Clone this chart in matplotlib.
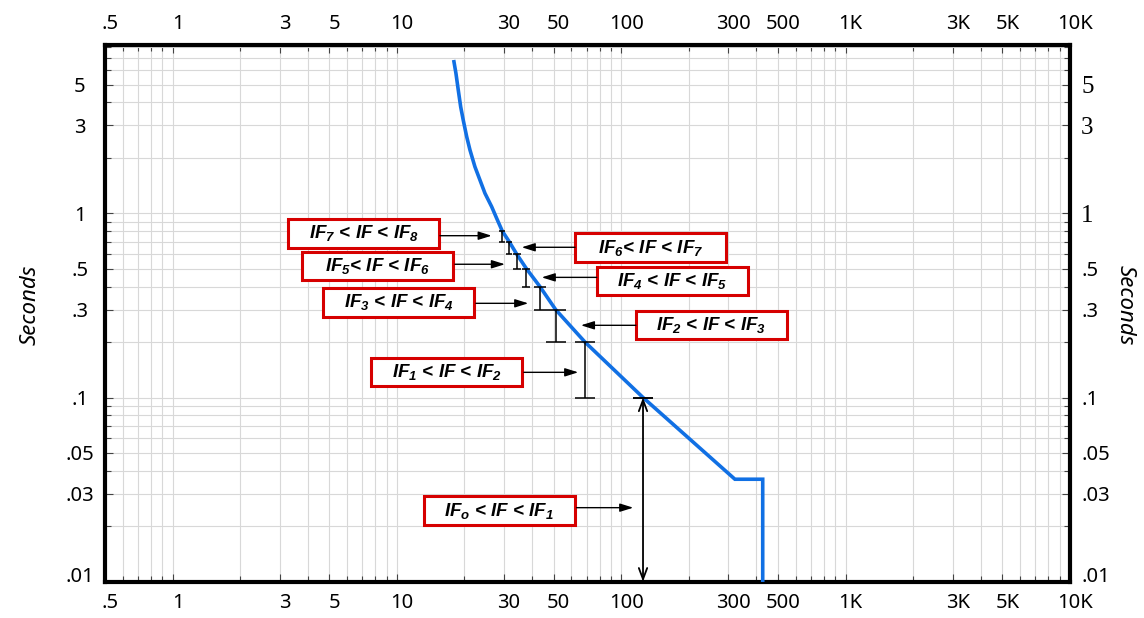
import numpy as np
import matplotlib.pyplot as plt
import matplotlib.transforms as mtransforms
from matplotlib.patches import Rectangle
from matplotlib.ticker import LogLocator, NullFormatter

plt.rcParams['font.family'] = ['Noto Sans', 'DejaVu Sans']
plt.rcParams['mathtext.default'] = 'regular'

# time-current curve (amps, seconds)
curve_x = [17.96, 18.33, 18.77, 19.24, 19.75, 20.46, 21.16, 22.27, 23.45, 24.69, 26.45, 27.84,
           29.5, 31.7, 34.2, 37.8, 43.4, 51.0, 68.9, 125, 321, 427, 427]
curve_y = [6.65, 5.75, 4.67, 3.79, 3.21, 2.61, 2.21, 1.79, 1.516, 1.284, 1.086, 0.939,
           0.80, 0.70, 0.60, 0.50, 0.40, 0.30, 0.20, 0.10, 0.036, 0.036, 0.01]

# step bars under the curve
bar_x = [29.5, 31.7, 34.2, 37.8, 43.4, 51.0, 68.9, 125]
bar_top = [0.8, 0.7, 0.6, 0.5, 0.4, 0.3, 0.2, 0.1]
bar_bottom = [0.7, 0.6, 0.5, 0.4, 0.3, 0.2, 0.1, 0.01]
bar_caps = [2.5, 2.5, 2.6, 3.2, 4.0, 7.0, 7.0, 7.5]

# labels
labels = ["IF$_7$ < IF < IF$_8$", "IF$_6$< IF < IF$_7$", "IF$_5$< IF < IF$_6$",
          "IF$_4$ < IF < IF$_5$", "IF$_3$ < IF < IF$_4$", "IF$_2$ < IF < IF$_3$",
          "IF$_1$ < IF < IF$_2$", "IF$_o$ < IF < IF$_1$"]
box_x = [7.12, 135.3, 8.23, 169, 10.18, 251.8, 16.66, 28.6]
box_y = [0.779, 0.652, 0.516, 0.430, 0.328, 0.248, 0.1372, 0.02435]
arrow_from_x = [15.56, 62.2, 18.14, 77.7, 22.5, 116.2, 36.8, 63.2]
arrow_to_x = [26.45, 36.0, 30.3, 44.2, 38.5, 66.1, 64.3, 113.1]
arrow_y = [0.756, 0.654, 0.529, 0.449, 0.3246, 0.2466, 0.137, 0.02523]

x_ticks = [0.5, 1, 3, 5, 10, 30, 50, 100, 300, 500, 1000, 3000, 5000, 10000]
x_labels = ['.5', '1', '3', '5', '10', '30', '50', '100', '300', '500', '1K', '3K', '5K', '10K']
y_ticks = [0.01, 0.03, 0.05, 0.1, 0.3, 0.5, 1, 3, 5]
y_labels = ['.01', '.03', '.05', '.1', '.3', '.5', '1', '3', '5']

fig = plt.figure(figsize=(11.44, 6.18), dpi=100)
ax = fig.add_axes([105 / 1144, 1 - 581.7 / 618, 965 / 1144, (581.7 - 45) / 618])
ax.set_xscale('log')
ax.set_yscale('log')
ax.set_xlim(0.5, 10000)
ax.set_ylim(0.01, 8.2)

ax.set_xticks(x_ticks, x_labels)
ax.set_yticks(y_ticks, y_labels)
ax.xaxis.set_minor_locator(LogLocator(base=10, subs=np.arange(2, 10), numticks=50))
ax.yaxis.set_minor_locator(LogLocator(base=10, subs=np.arange(2, 10), numticks=50))
ax.xaxis.set_minor_formatter(NullFormatter())
ax.yaxis.set_minor_formatter(NullFormatter())

ax.grid(which='both', color='#d8d8d8', lw=0.8)
ax.set_axisbelow(True)
ax.tick_params(which='both', direction='in', top=True, right=True, labeltop=True,
               labelright=True, color='#444444', width=0.8)
ax.tick_params(which='major', length=6, labelsize=14.5)
ax.tick_params(which='minor', length=4)
ax.tick_params(axis='x', pad=8)
ax.tick_params(axis='y', pad=8)

for s in ax.spines.values():
    s.set_linewidth(3)
    s.set_color('black')

# shift labels a little like the original
dx = mtransforms.ScaledTranslation(5 / 100, 0, fig.dpi_scale_trans)
for t in ax.xaxis.get_major_ticks():
    t.label1.set_transform(t.label1.get_transform() + dx)
    t.label2.set_transform(t.label2.get_transform() + dx)

left_shift = mtransforms.ScaledTranslation(-14 / 100, 0, fig.dpi_scale_trans)
up_shift = mtransforms.ScaledTranslation(0, 7 / 100, fig.dpi_scale_trans)
for i, t in enumerate(ax.yaxis.get_major_ticks()):
    t.label1.set_horizontalalignment('center')
    t.label1.set_transform(t.label1.get_transform() + left_shift)
    if y_labels[i] in ['1', '3', '5']:
        t.label2.set_fontfamily('Liberation Serif')
        t.label2.set_fontsize(18)
    if y_labels[i] == '.01':
        t.label1.set_transform(t.label1.get_transform() + up_shift)
        t.label2.set_transform(t.label2.get_transform() + up_shift)

# curve
ax.plot(curve_x, curve_y, color='#1170e4', lw=2.6, zorder=3, solid_joinstyle='miter')

# bars
for i in range(len(bar_x) - 1):
    ax.errorbar(bar_x[i], bar_top[i], yerr=[[bar_top[i] - bar_bottom[i]], [0]], fmt='none',
                ecolor='black', elinewidth=1.1, capsize=bar_caps[i], capthick=1.1, zorder=4)
ax.errorbar(bar_x[-1], bar_top[-1], yerr=[[0], [0]], fmt='none', ecolor='black',
            elinewidth=1.1, capsize=bar_caps[-1], capthick=1.1, zorder=4)
ax.annotate('', xy=(bar_x[-1], bar_top[-1]), xytext=(bar_x[-1], bar_bottom[-1]),
            arrowprops=dict(arrowstyle='<->,head_length=0.8,head_width=0.3', color='black',
                            lw=1.3, shrinkA=0, shrinkB=0, mutation_scale=10), zorder=4)

# label boxes and arrows
box_w, box_h = 1.51, 0.285
for i in range(len(labels)):
    tr = fig.dpi_scale_trans + mtransforms.ScaledTranslation(box_x[i], box_y[i], ax.transData)
    ax.add_patch(Rectangle((-box_w / 2, -box_h / 2), box_w, box_h, transform=tr,
                           fc='white', ec='#d60000', lw=2.2, zorder=5))
    ax.text(box_x[i], box_y[i], labels[i], ha='center', va='center', fontsize=13.5,
            family=['Liberation Sans', 'DejaVu Sans'], fontweight='bold', fontstyle='italic',
            zorder=6)
    ax.annotate('', xy=(arrow_to_x[i], arrow_y[i]), xytext=(arrow_from_x[i], arrow_y[i]),
                arrowprops=dict(arrowstyle='-|>,head_length=0.8,head_width=0.25', color='black',
                                lw=1, shrinkA=0, shrinkB=0, mutation_scale=10), zorder=5)

fig.text(30 / 1144, 1 - 305 / 618, 'Seconds', rotation=90, ha='center', va='center',
         fontsize=16, fontstyle='italic')
fig.text(1125 / 1144, 1 - 305 / 618, 'Seconds', rotation=270, ha='center', va='center',
         fontsize=16, fontstyle='italic')

fig.savefig('out.png', dpi=100)
